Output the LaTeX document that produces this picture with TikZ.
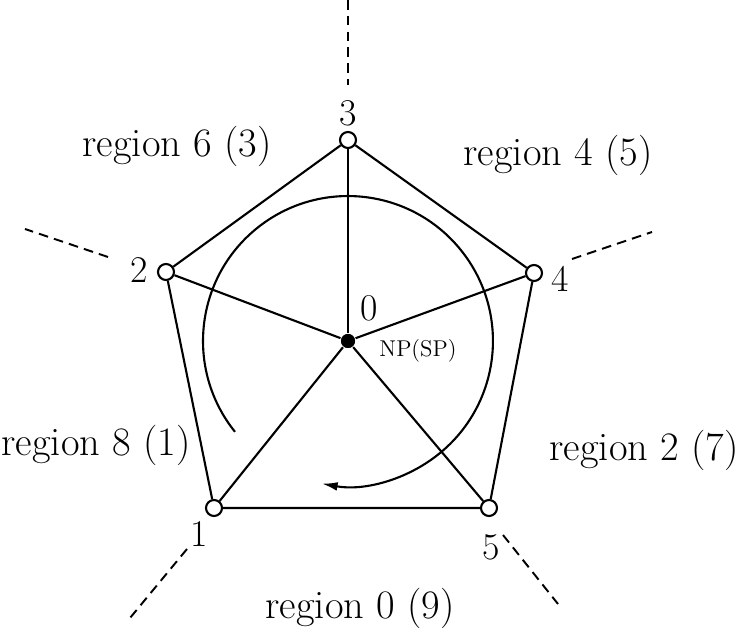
\documentclass[tikz,border=0pt]{standalone}
\usepackage{tikz}
\usetikzlibrary{arrows.meta, calc}

\begin{document}
\begin{tikzpicture}[x=0.02cm, y=0.02cm, >=Latex, line width=1.2pt]
    \tikzset{
        vertex/.style={circle, draw, fill=white, inner sep=0pt, minimum size=0.32cm},
        pole/.style={circle, fill=black, inner sep=0pt, minimum size=0.28cm},
        lbl/.style={font=\fontsize{21.5}{25}\selectfont, inner sep=0pt},
        rlbl/.style={font=\fontsize{23}{27}\selectfont, inner sep=0pt},
        border/.style={dash pattern=on 5.5pt off 3.5pt, line width=1.1pt}
    }
    \useasboundingbox (0,0) rectangle (740,628);

    % Region borders (dashed rays)
    \coordinate (b3a) at (348,628); \coordinate (b3b) at (348,543);
    \coordinate (b4a) at (572,369); \coordinate (b4b) at (652,396);
    \coordinate (b2a) at (108,371); \coordinate (b2b) at (25,399);
    \coordinate (b1a) at (187,79);  \coordinate (b1b) at (130,10);
    \coordinate (b5a) at (503,93);  \coordinate (b5b) at (558,24);
    \foreach \i in {1,...,5}
        \draw[border] (b\i a) -- (b\i b);

    % Rotation arc
    \node[pole] (o) at (348,287) {};
    \draw[-{Latex[length=9pt, width=5pt]}] ($(o)+(218.8:145)$) arc[start angle=218.8, end angle=-100.4, radius=2.9cm];

    % Spokes and pentagon
    \node[vertex] (v1) at (214,120) {};
    \node[vertex] (v2) at (166,356) {};
    \node[vertex] (v3) at (348,488) {};
    \node[vertex] (v4) at (534,355) {};
    \node[vertex] (v5) at (489,120) {};
    \foreach \i in {1,...,5}
        \draw (o) -- (v\i);
    \draw (v1) -- (v2) -- (v3) -- (v4) -- (v5) -- (v1);
    \node[pole] at (o) {};

    % Vertex labels
    \node[lbl] (l0) at (369,320) {0};
    \node[font=\fontsize{13}{15}\selectfont, inner sep=0pt] (np) at (418,277) {NP(SP)};
    \node[lbl] (l1) at (199,94) {1};
    \node[lbl] (l2) at (139,358) {2};
    \node[lbl] (l3) at (348,515) {3};
    \node[lbl] (l4) at (560,349) {4};
    \node[lbl] (l5) at (491,81) {5};

    % Region labels
    \node[rlbl] (r6) at (177,482) {region 6 (3)};
    \node[rlbl] (r4) at (558,473) {region 4 (5)};
    \node[rlbl] (r8) at (96,183) {region 8 (1)};
    \node[rlbl] (r2) at (644,178) {region 2 (7)};
    \node[rlbl] (r0) at (360,20) {region 0 (9)};
\end{tikzpicture}
\end{document}
